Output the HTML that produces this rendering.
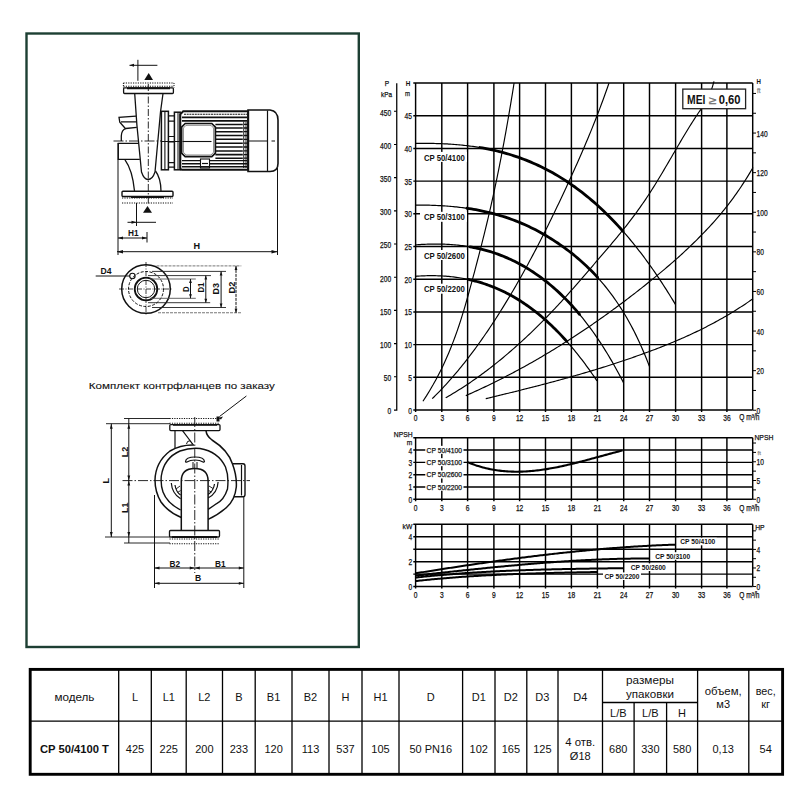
<!DOCTYPE html>
<html><head><meta charset="utf-8"><title>CP 50/4100 T</title>
<style>
html,body{margin:0;padding:0;background:#fff;width:800px;height:800px;overflow:hidden}
svg{display:block}
text{font-family:"Liberation Sans",sans-serif}
</style></head><body>
<svg width="800" height="800" viewBox="0 0 800 800">
<rect width="800" height="800" fill="#fff"/>
<rect x="26.5" y="33.5" width="332.3" height="613.5" fill="#fff" stroke="#1d3f33" stroke-width="2.4"/>
<g fill="none" stroke="#111" stroke-width="1.1">
<!-- ===== Drawing 1: front view ===== -->
<!-- top dimension -->
<path d="M129.5 65.3 H157.4 M137.9 59.8 V80.8" stroke-width="1"/>
<path d="M129.5 65.3 L134 63.8 L134 66.8 Z" fill="#111" stroke="none"/>
<path d="M148.7 73 L153 80 L144.3 80 Z" fill="#111" stroke="none"/>
<!-- counter flange top (dotted) -->
<path d="M123.4 83 H174 M123.4 86.2 H174" stroke-dasharray="1.2 1.2" stroke-width="1.1"/>
<path d="M123.4 83 V87.5 M174 83 V87.5" stroke-dasharray="1 1" stroke-width="1"/>
<!-- top flange -->
<rect x="123.6" y="87.8" width="49.8" height="5.7" rx="1" stroke-width="1.3"/>
<path d="M127 88.2 H170" stroke-width="2"/>
<!-- cone -->
<path d="M134.7 93.5 L136.9 125 L141.5 172 Q144 179.5 148 179.5 Q152.5 179.5 155 172 L160.5 112 L163 93.5" stroke-width="1.3"/>
<!-- center line vertical -->
<path d="M148.3 84 V205" stroke-width="0.9" stroke-dasharray="7 2 1.5 2"/>
<!-- left upper cap -->
<path d="M136 116.2 L119 117.4 L119.8 122.3 L125.8 129 M121 121.9 H136.3" stroke-width="1.3"/>
<path d="M121.3 141 V136 Q121.5 130 125.8 128.5 L136.8 127.4" stroke-width="1.3"/>
<!-- center line horizontal -->
<path d="M113.5 141 H162" stroke-width="0.9" stroke-dasharray="10 2 1.5 2"/>
<path d="M162 141.5 H180" stroke-width="1"/>
<!-- left box -->
<path d="M138.6 143.3 H118.3 V159.4 H139.8" stroke-width="1.3"/>
<!-- lower body -->
<path d="M125 159.8 Q132.5 170 134.5 191" stroke-width="1.3"/>
<path d="M155.5 171 Q160.8 178 161 191" stroke-width="1.3"/>
<!-- bottom flange -->
<rect x="122" y="191.2" width="51" height="5.3" rx="1" stroke-width="1.4"/>
<path d="M131 197 H164" stroke-width="1.8"/>
<path d="M122 198 H173 M122 203 H173" stroke-dasharray="1.2 1.2" stroke-width="1.1"/>
<path d="M147.5 206 L152 212.8 L143 212.8 Z" fill="#111" stroke="none"/>
<!-- H1 dims -->
<path d="M136.5 203 V226 M127.5 222.3 H156 M118 238 H147 M147 232 V242.5" stroke-width="1"/>
<path d="M136.5 222.3 L131.5 220.8 L131.5 223.8 Z M118 238 L123 236.5 L123 239.5 Z M147 238 L142 236.5 L142 239.5 Z" fill="#111" stroke="none"/>
<!-- H dim -->
<path d="M118 143 V255 M277.5 168 V255 M117 251.7 H277.5" stroke-width="1"/>
<path d="M117 251.7 L123 250 L123 253.4 Z M277.5 251.7 L271.5 250 L271.5 253.4 Z" fill="#111" stroke="none"/>
<!-- lantern -->
<rect x="161.4" y="111.3" width="7" height="58.5" stroke-width="1.5"/>
<path d="M164.9 111.5 V169.5" stroke-width="1.1"/>
<path d="M168.5 115.8 H174.4 M168.5 121.2 H174.4 M168.5 136.5 H174.4 M168.5 141.9 H174.4 M168.5 162.6 H174.4 M168.5 167.1 H174.4" stroke-width="1.2"/>
<rect x="174.4" y="112.2" width="5.8" height="57.6" stroke-width="1.5"/>
<path d="M178 112.5 V169.5" stroke-width="1"/>
<!-- motor body -->
<path d="M183.2 111.3 H248.2 V169.8 H182 Q180.3 169.8 180.3 167.5 V114.3 Z" stroke-width="2"/>
<path d="M184 114.2 H247" stroke-width="1.1" stroke-dasharray="2 0.7"/>
<path d="M182 117.4 H247 M182 120.9 H247" stroke-width="1.6"/>
<path d="M215.4 124.4 H242.8 M215.4 128 H242.8 M215.4 131.7 H242.8 M215.4 135.5 H242.8 M215.4 139.3 H242.8 M215.4 143.2 H242.8 M215.4 147 H242.8 M215.4 150.9 H242.8 M215.4 154.6 H242.8 M215.4 158.2 H242.8" stroke-width="1.55"/>
<path d="M182 160.6 H200.5 M209.5 160.6 H247 M182 163.8 H200.5 M209.5 163.8 H247 M182 166.8 H247" stroke-width="1.4"/>
<path d="M243.7 121.5 V168 M246 122 V168" stroke-width="0.9"/>
<path d="M244 124.4 H248 M244 128 H248 M244 131.7 H248 M244 135.5 H248 M244 139.3 H248 M244 143.2 H248 M244 147 H248 M244 150.9 H248 M244 154.6 H248 M244 158.2 H248" stroke-width="1.3"/>
<!-- terminal box -->
<path d="M185.2 123.5 H211.8 L215.4 127.1 V153.1 L211.8 156.7 H185.2 L181.6 153.1 V127.1 Z" stroke-width="1.7"/>
<path d="M186 125.3 H211 L213.6 128 V152.2 L211 155 H186 L183.4 152.2 V128 Z" stroke-width="0.7" stroke="#555"/>
<path d="M182.5 141.5 H211.5" stroke-width="1.1"/>
<rect x="200.5" y="159" width="9" height="9" stroke-width="1.1"/>
<path d="M202 163.5 H208" stroke-width="1.2"/>
<!-- fan cover -->
<path d="M248 110 H270 Q278 111 278 120 V163.5 Q278 171.5 270 171.5 H248 Z" stroke-width="1.6"/>
<path d="M267.5 110.5 V171" stroke-width="1.2"/>
<path d="M249 141 H267.5 M271.5 141 H275" stroke-width="1.2"/>

<!-- ===== Drawing 2: flange view ===== -->
<circle cx="146" cy="289" r="24.3" stroke-width="1.5"/>
<circle cx="146" cy="289" r="17.5" stroke-width="1" stroke-dasharray="3 1.5"/>
<circle cx="146" cy="289" r="11.3" stroke-width="1.8"/>
<circle cx="146" cy="289" r="8.7" stroke-width="1"/>
<circle cx="132.4" cy="276" r="2.7" stroke-width="1.1"/>
<path d="M95.7 276 H130" stroke-width="1"/>
<path d="M119 289 H173 M146 262 V316" stroke-width="0.8" stroke-dasharray="5 1.5 1 1.5"/>
<path d="M156.5 265.9 H241.3 M158 312.75 H241.3" stroke-width="0.9" stroke-dasharray="3 1" stroke="#666"/>
<path d="M152 271.4 H226 M152 307.5 H226" stroke-width="0.9" stroke="#222"/>
<path d="M148 275.6 H211 M148 302.7 H210.2" stroke-width="0.9" stroke="#222"/>
<path d="M150 279 H195.8 M150 298.3 H195.8" stroke-width="0.9" stroke="#555"/>
<path d="M190.5 279 V298.3 M205.8 275.6 V302.7 M221.1 271.4 V307.5" stroke-width="1"/>
<path d="M236 265.9 V312.75" stroke-width="1" stroke-dasharray="3 1"/>
<g fill="#111" stroke="none">
<path d="M190.5 279 l-1.4 4 h2.8 Z M190.5 298.3 l-1.4 -4 h2.8 Z"/>
<path d="M205.8 275.6 l-1.4 4 h2.8 Z M205.8 302.7 l-1.4 -4 h2.8 Z"/>
<path d="M221.1 271.4 l-1.4 4 h2.8 Z M221.1 307.5 l-1.4 -4 h2.8 Z"/>
<path d="M236 265.9 l-1.4 4 h2.8 Z M236 312.75 l-1.4 -4 h2.8 Z"/>
</g>

<!-- ===== Drawing 3: side view ===== -->
<path d="M246.4 396 L219.5 416.5" stroke-width="1"/>
<path d="M218 418 l5 -1.5 l-2 3 Z" fill="#111" stroke="none"/>
<rect x="216.5" y="416.5" width="3" height="5" fill="#111" stroke="none"/>
<path d="M169.5 418.5 H219 M169.5 423.2 H219" stroke-dasharray="1.2 1.2" stroke-width="1.1"/>
<rect x="169.8" y="424.6" width="50.2" height="6" rx="1" stroke-width="1.3"/>
<path d="M173 424.8 H217" stroke-width="1.8"/>
<!-- neck -->
<path d="M175 430.6 V448 M182.5 430.6 L193 444.5" stroke-width="1.2"/>
<path d="M186.5 444 Q187 440.5 190 440.8 L192.5 444" stroke-width="1"/>
<!-- volute -->
<path d="M206 430.6 Q206.5 436 212 440 Q228 450 232.5 464 Q237 476 236.3 487 Q235 500 226.5 507.5 Q218 515 208.1 519.4" stroke-width="1.5"/>
<path d="M181.3 517.5 Q168 512 161 502 Q155 492 155 480 Q155.5 462 170 451 Q181 444.5 194 445" stroke-width="1.5"/>
<path d="M180.6 510 Q167 503 163 492 Q160.5 485 161.3 476 Q164 458 180 451 Q190 447.5 200 448.5 Q218 451.5 225.5 467 Q229 476 227.5 489 Q224 500 216.3 503.8 Q212 507 208.1 509.4" stroke-width="1.4"/>
<!-- boss -->
<path d="M232.5 463.7 H243 Q245 463.7 245 466 V494.5 Q245 496.8 243 496.8 H234" stroke-width="1.4"/>
<path d="M241.5 465 V495.5" stroke-width="1.2"/>
<!-- inner pipe -->
<path d="M181.3 531 V481 Q181.3 468.5 194.7 468.5 Q208.1 468.5 208.1 481 V531" stroke-width="1.5"/>
<!-- T handle -->
<path d="M185.5 461.5 Q186 457 195 457 Q204 457 204.5 461.5 Q204 462.5 203 462 Q200 460 195 460 Q190 460 187 462 Q185.8 462.5 185.5 461.5 Z" stroke-width="1.2"/>
<path d="M193 462 V468.5 M197 462 V468.5" stroke-width="1"/>
<!-- blades -->
<path d="M171.3 483 Q172 493.5 180.6 498.8 M175 485 Q176 492 180.6 495" stroke-width="1.2"/>
<path d="M176 489 L180 486 M177.5 492.5 L180.6 490.5" stroke-width="0.9"/>
<path d="M218.1 482 Q217.5 493 208.1 498 M214.5 484 Q213.5 491 208.1 494.5" stroke-width="1.2"/>
<path d="M213 488.5 L209 486 M211.5 492 L208.5 490.5" stroke-width="0.9"/>
<!-- bottom flange -->
<rect x="169.5" y="530.5" width="50" height="6.5" rx="1" stroke-width="1.3"/>
<path d="M172 537 H217" stroke-width="1.8"/>
<path d="M169.5 539 H219.5 M169.5 543.7 H219.5" stroke-dasharray="1.2 1.2" stroke-width="1.1"/>
<!-- center lines -->
<path d="M122.5 480.6 H250" stroke-width="0.9" stroke-dasharray="10 2 1.5 2"/>
<path d="M194.75 417 V573" stroke-width="0.9" stroke-dasharray="10 2 1.5 2"/>
<!-- dims L, L1, L2 -->
<path d="M106 423.7 H170 M124 418.5 H170 M105 537 H170 M124 543 H170" stroke-width="0.9"/>
<path d="M111.3 423.7 V537 M128.8 418.5 V543" stroke-width="1"/>
<g fill="#111" stroke="none">
<path d="M111.3 423.7 l-1.4 5 h2.8 Z M111.3 537 l-1.4 -5 h2.8 Z"/>
<path d="M128.8 423.7 l-1.4 5 h2.8 Z M128.8 480.6 l-1.4 -5 h2.8 Z M128.8 480.6 l-1.4 5 h2.8 Z M128.8 537 l-1.4 -5 h2.8 Z"/>
</g>
<!-- B dims -->
<path d="M154.5 495 V588 M243.8 497 V588" stroke-width="1"/>
<path d="M154.5 568 H243.8 M154.5 583.3 H243.8" stroke-width="1"/>
<g fill="#111" stroke="none">
<path d="M154.5 568 l5 -1.4 v2.8 Z M194.75 568 l-5 -1.4 v2.8 Z M194.75 568 l5 -1.4 v2.8 Z M243.8 568 l-5 -1.4 v2.8 Z"/>
<path d="M154.5 583.3 l5 -1.4 v2.8 Z M243.8 583.3 l-5 -1.4 v2.8 Z"/>
</g>
</g>
<g font-family="Liberation Sans, sans-serif" fill="#111" font-weight="bold">
<text x="128" y="235.6" font-size="9" textLength="10.6" lengthAdjust="spacingAndGlyphs">H1</text>
<text x="193.6" y="249.2" font-size="9.4" textLength="6.6" lengthAdjust="spacingAndGlyphs">H</text>
<text x="100.6" y="273.8" font-size="9" textLength="11" lengthAdjust="spacingAndGlyphs">D4</text>
<text transform="translate(188.5 292) rotate(-90)" font-size="9.2" textLength="5.6" lengthAdjust="spacingAndGlyphs">D</text>
<text transform="translate(203.8 292.6) rotate(-90)" font-size="9.4" textLength="10" lengthAdjust="spacingAndGlyphs">D1</text>
<text transform="translate(219.2 294.4) rotate(-90)" font-size="9.4" textLength="11.4" lengthAdjust="spacingAndGlyphs">D3</text>
<text transform="translate(235.2 293.5) rotate(-90)" font-size="9.6" textLength="11.8" lengthAdjust="spacingAndGlyphs">D2</text>
<text transform="translate(108.9 483.4) rotate(-90)" font-size="9">L</text>
<text transform="translate(127.6 457.2) rotate(-90)" font-size="9" textLength="10.6" lengthAdjust="spacingAndGlyphs">L2</text>
<text transform="translate(127.6 513) rotate(-90)" font-size="9" textLength="10.6" lengthAdjust="spacingAndGlyphs">L1</text>
<text x="169.5" y="567" font-size="9" textLength="10.6" lengthAdjust="spacingAndGlyphs">B2</text>
<text x="215" y="567" font-size="9" textLength="10.6" lengthAdjust="spacingAndGlyphs">B1</text>
<text x="195" y="581.4" font-size="9" textLength="6.2" lengthAdjust="spacingAndGlyphs">B</text>
</g>
<text x="88.8" y="388.9" font-family="Liberation Sans, sans-serif" font-size="9.7" fill="#111" stroke="#111" stroke-width="0.1" textLength="186" lengthAdjust="spacingAndGlyphs">Комплект контрфланцев по заказу</text>

<g font-family="Liberation Sans, sans-serif">
<path d="M415.6 83 V412 M441.8 83 V412 M467.6 83 V412 M493.9 83 V412 M519.6 83 V412 M545.5 83 V412 M571.4 83 V412 M597.4 83 V412 M623.7 83 V412 M649.5 83 V412 M675.6 83 V412 M701.6 83 V412 M726.9 83 V412 M752.7 83 V410 M413.3 410 H752.7 M413.3 377.3 H752.7 M413.3 344.6 H752.7 M413.3 311.9 H752.7 M413.3 279.2 H752.7 M413.3 246.5 H752.7 M413.3 213.8 H752.7 M413.3 181.1 H752.7 M413.3 148.4 H752.7 M413.3 115.7 H752.7 M413.3 83 H752.7" stroke="#000" stroke-width="1.45" fill="none"/>
<path d="M396.75 83.2 V410 H394" stroke="#000" stroke-width="1.25" fill="none"/>
<path d="M394 376.81 H396.75 M394 343.61 H396.75 M394 310.41 H396.75 M394 277.22 H396.75 M394 244.02 H396.75 M394 210.83 H396.75 M394 177.63 H396.75 M394 144.44 H396.75 M394 111.25 H396.75" stroke="#000" stroke-width="1.1" fill="none"/>
<path d="M752.8 410.25 H756 M752.8 390.45 H756 M752.8 370.65 H756 M752.8 350.85 H756 M752.8 331.05 H756 M752.8 311.25 H756 M752.8 291.45 H756 M752.8 271.65 H756 M752.8 251.85 H756 M752.8 232.05 H756 M752.8 212.25 H756 M752.8 192.45 H756 M752.8 172.65 H756 M752.8 152.85 H756 M752.8 133.05 H756 M752.8 113.25 H756 M752.8 93.45 H756" stroke="#000" stroke-width="1.0" fill="none"/>
<path d="M514.09 83 L513.22 88.39 L512.35 93.79 L511.46 99.18 L510.57 104.58 L509.66 109.97 L508.74 115.36 L507.81 120.76 L506.86 126.15 L505.9 131.55 L504.93 136.94 L503.94 142.33 L502.93 147.73 L501.91 153.12 L500.87 158.52 L499.82 163.91 L498.74 169.31 L497.65 174.7 L496.54 180.09 L495.4 185.49 L494.25 190.88 L493.08 196.28 L491.88 201.67 L490.66 207.06 L489.42 212.46 L488.16 217.85 L486.87 223.25 L485.56 228.64 L484.23 234.03 L482.89 239.43 L481.53 244.82 L480.15 250.22 L478.76 255.61 L477.35 261 L475.93 266.4 L474.51 271.79 L473.07 277.19 L471.62 282.58 L470.16 287.97 L468.68 293.37 L467.17 298.76 L465.63 304.16 L464.04 309.55 L462.39 314.94 L460.69 320.34 L458.93 325.73 L457.09 331.13 L455.16 336.52 L453.15 341.92 L451.04 347.31 L448.83 352.7 L446.5 358.1 L444.06 363.49 L441.48 368.89 L438.77 374.28 L435.92 379.67 L432.92 385.07 L429.76 390.46 L426.44 395.86 L422.94 401.25 M432.2 398.71 L433.72 397.22 L435.25 395.71 L436.77 394.18 L438.3 392.63 L439.82 391.06 L441.34 389.47 L442.87 387.85 L444.39 386.22 L445.92 384.56 L447.44 382.88 L448.97 381.18 L450.49 379.46 L452.01 377.72 L453.54 375.96 L455.06 374.18 L456.59 372.37 L458.11 370.54 L459.63 368.7 L461.16 366.83 L462.68 364.94 L464.21 363.03 L465.73 361.09 L467.26 359.14 L468.78 357.16 L470.3 355.17 L471.83 353.15 L473.35 351.11 L474.88 349.05 L476.4 346.97 L477.92 344.87 L479.45 342.75 L480.97 340.6 L482.5 338.44 L484.02 336.25 L485.54 334.04 L487.07 331.81 L488.59 329.56 L490.12 327.29 L491.64 325 L493.17 322.69 L494.69 320.35 L496.21 318 L497.74 315.62 L499.26 313.22 L500.79 310.81 L502.31 308.37 L503.83 305.9 L505.36 303.42 L506.88 300.92 L508.41 298.4 L509.93 295.85 L511.46 293.28 L512.98 290.7 L514.5 288.09 L516.03 285.46 L517.55 282.81 L519.08 280.14 L520.6 277.44 L522.12 274.73 L523.65 271.99 L525.17 269.24 L526.7 266.46 L528.22 263.66 L529.74 260.84 L531.27 258 L532.79 255.14 L534.32 252.26 L535.84 249.36 L537.37 246.44 L538.89 243.49 L540.41 240.53 L541.94 237.55 L543.46 234.54 L544.99 231.52 L546.51 228.47 L548.03 225.41 L549.56 222.33 L551.08 219.22 L552.61 216.1 L554.13 212.96 L555.66 209.8 L557.18 206.62 L558.7 203.42 L560.23 200.21 L561.75 196.97 L563.28 193.72 L564.8 190.45 L566.32 187.16 L567.85 183.85 L569.37 180.52 L570.9 177.18 L572.42 173.83 L573.94 170.45 L575.47 167.06 L576.99 163.65 L578.52 160.21 L580.04 156.75 L581.57 153.26 L583.09 149.74 L584.61 146.19 L586.14 142.6 L587.66 138.97 L589.19 135.31 L590.71 131.6 L592.23 127.85 L593.76 124.06 L595.28 120.21 L596.81 116.32 L598.33 112.37 L599.86 108.36 L601.38 104.3 L602.9 100.18 L604.43 96 L605.95 91.75 L607.48 87.44 L609 83.05 M445.7 397.77 L447.22 396.91 L448.73 396.03 L450.25 395.15 L451.76 394.25 L453.28 393.34 L454.79 392.42 L456.31 391.49 L457.83 390.55 L459.34 389.6 L460.86 388.64 L462.37 387.67 L463.89 386.68 L465.41 385.69 L466.92 384.69 L468.44 383.67 L469.95 382.65 L471.47 381.61 L472.98 380.57 L474.5 379.51 L476.02 378.44 L477.53 377.36 L479.05 376.28 L480.56 375.18 L482.08 374.07 L483.6 372.95 L485.11 371.82 L486.63 370.68 L488.14 369.53 L489.66 368.36 L491.17 367.19 L492.69 366.01 L494.21 364.82 L495.72 363.61 L497.24 362.4 L498.75 361.17 L500.27 359.94 L501.79 358.69 L503.3 357.44 L504.82 356.17 L506.33 354.89 L507.85 353.61 L509.36 352.31 L510.88 351 L512.4 349.68 L513.91 348.35 L515.43 347.01 L516.94 345.66 L518.46 344.3 L519.98 342.93 L521.49 341.55 L523.01 340.16 L524.52 338.76 L526.04 337.35 L527.55 335.93 L529.07 334.49 L530.59 333.05 L532.1 331.6 L533.62 330.14 L535.13 328.66 L536.65 327.18 L538.16 325.68 L539.68 324.18 L541.2 322.66 L542.71 321.14 L544.23 319.6 L545.74 318.06 L547.26 316.5 L548.78 314.94 L550.29 313.36 L551.81 311.77 L553.32 310.18 L554.84 308.57 L556.35 306.95 L557.87 305.33 L559.39 303.69 L560.9 302.04 L562.42 300.38 L563.93 298.72 L565.45 297.04 L566.97 295.35 L568.48 293.66 L570 291.95 L571.51 290.24 L573.03 288.52 L574.54 286.8 L576.06 285.07 L577.58 283.33 L579.09 281.59 L580.61 279.84 L582.12 278.09 L583.64 276.34 L585.16 274.58 L586.67 272.82 L588.19 271.06 L589.7 269.3 L591.22 267.53 L592.73 265.77 L594.25 264 L595.77 262.23 L597.28 260.47 L598.8 258.71 L600.31 256.94 L601.83 255.18 L603.35 253.41 L604.86 251.64 L606.38 249.87 L607.89 248.1 L609.41 246.31 L610.92 244.52 L612.44 242.73 L613.96 240.92 L615.47 239.11 L616.99 237.28 L618.5 235.44 L620.02 233.59 L621.54 231.72 L623.05 229.84 L624.57 227.94 L626.08 226.02 L627.6 224.09 L629.11 222.13 L630.63 220.16 L632.15 218.16 L633.66 216.15 L635.18 214.1 L636.69 212.04 L638.21 209.95 L639.72 207.83 L641.24 205.68 L642.76 203.5 L644.27 201.3 L645.79 199.06 L647.3 196.79 L648.82 194.49 L650.34 192.15 L651.85 189.78 L653.37 187.38 L654.88 184.95 L656.4 182.49 L657.91 180 L659.43 177.5 L660.95 174.97 L662.46 172.42 L663.98 169.86 L665.49 167.29 L667.01 164.71 L668.53 162.12 L670.04 159.52 L671.56 156.92 L673.07 154.32 L674.59 151.72 L676.1 149.12 L677.62 146.53 L679.14 143.95 L680.65 141.38 L682.17 138.82 L683.68 136.28 L685.2 133.76 L686.72 131.26 L688.23 128.78 L689.75 126.32 L691.26 123.9 L692.78 121.5 L694.29 119.14 L695.81 116.81 L697.33 114.52 L698.84 112.27 L700.36 110.06 L701.87 107.89 L703.39 105.71 L704.91 103.41 L706.42 100.89 L707.94 98.05 L709.45 94.79 L710.97 90.99 L712.48 86.57 L714 81.41 M465.8 395.65 L467.31 394.98 L468.82 394.31 L470.33 393.64 L471.85 392.96 L473.36 392.27 L474.87 391.58 L476.38 390.89 L477.89 390.19 L479.4 389.49 L480.92 388.79 L482.43 388.08 L483.94 387.36 L485.45 386.64 L486.96 385.92 L488.47 385.19 L489.99 384.46 L491.5 383.72 L493.01 382.98 L494.52 382.23 L496.03 381.48 L497.54 380.73 L499.05 379.97 L500.57 379.21 L502.08 378.44 L503.59 377.67 L505.1 376.89 L506.61 376.11 L508.12 375.32 L509.64 374.53 L511.15 373.74 L512.66 372.94 L514.17 372.13 L515.68 371.33 L517.19 370.51 L518.71 369.7 L520.22 368.87 L521.73 368.05 L523.24 367.22 L524.75 366.38 L526.26 365.54 L527.77 364.7 L529.29 363.85 L530.8 363 L532.31 362.14 L533.82 361.28 L535.33 360.41 L536.84 359.54 L538.36 358.67 L539.87 357.79 L541.38 356.9 L542.89 356.01 L544.4 355.12 L545.91 354.22 L547.43 353.32 L548.94 352.41 L550.45 351.5 L551.96 350.58 L553.47 349.66 L554.98 348.73 L556.49 347.8 L558.01 346.87 L559.52 345.93 L561.03 344.99 L562.54 344.04 L564.05 343.09 L565.56 342.13 L567.08 341.17 L568.59 340.2 L570.1 339.23 L571.61 338.25 L573.12 337.27 L574.63 336.29 L576.15 335.3 L577.66 334.3 L579.17 333.3 L580.68 332.3 L582.19 331.29 L583.7 330.28 L585.21 329.26 L586.73 328.24 L588.24 327.21 L589.75 326.18 L591.26 325.15 L592.77 324.11 L594.28 323.06 L595.8 322.01 L597.31 320.96 L598.82 319.9 L600.33 318.83 L601.84 317.76 L603.35 316.69 L604.87 315.61 L606.38 314.53 L607.89 313.44 L609.4 312.35 L610.91 311.26 L612.42 310.16 L613.93 309.05 L615.45 307.94 L616.96 306.82 L618.47 305.7 L619.98 304.58 L621.49 303.45 L623 302.32 L624.52 301.18 L626.03 300.03 L627.54 298.89 L629.05 297.73 L630.56 296.58 L632.07 295.41 L633.59 294.25 L635.1 293.08 L636.61 291.9 L638.12 290.72 L639.63 289.53 L641.14 288.34 L642.65 287.15 L644.17 285.95 L645.68 284.74 L647.19 283.53 L648.7 282.32 L650.21 281.1 L651.72 279.87 L653.24 278.65 L654.75 277.41 L656.26 276.17 L657.77 274.92 L659.28 273.67 L660.79 272.41 L662.31 271.15 L663.82 269.88 L665.33 268.6 L666.84 267.31 L668.35 266.01 L669.86 264.71 L671.37 263.4 L672.89 262.08 L674.4 260.75 L675.91 259.41 L677.42 258.06 L678.93 256.7 L680.44 255.34 L681.96 253.96 L683.47 252.57 L684.98 251.17 L686.49 249.76 L688 248.33 L689.51 246.9 L691.03 245.45 L692.54 243.99 L694.05 242.52 L695.56 241.04 L697.07 239.54 L698.58 238.03 L700.09 236.51 L701.61 234.97 L703.12 233.41 L704.63 231.84 L706.14 230.26 L707.65 228.66 L709.16 227.04 L710.68 225.4 L712.19 223.74 L713.7 222.06 L715.21 220.35 L716.72 218.63 L718.23 216.88 L719.75 215.1 L721.26 213.29 L722.77 211.46 L724.28 209.6 L725.79 207.71 L727.3 205.8 L728.81 203.84 L730.33 201.86 L731.84 199.84 L733.35 197.79 L734.86 195.7 L736.37 193.58 L737.88 191.41 L739.4 189.21 L740.91 186.97 L742.42 184.69 L743.93 182.37 L745.44 180 L746.95 177.59 L748.47 175.13 L749.98 172.63 L751.49 170.08 L753 167.49 M485.75 398.68 L487.26 398.32 L488.77 397.96 L490.28 397.59 L491.79 397.23 L493.3 396.86 L494.81 396.5 L496.32 396.13 L497.83 395.77 L499.34 395.4 L500.85 395.03 L502.36 394.66 L503.87 394.3 L505.38 393.93 L506.89 393.56 L508.4 393.19 L509.91 392.81 L511.42 392.44 L512.93 392.07 L514.44 391.7 L515.95 391.32 L517.46 390.95 L518.97 390.57 L520.48 390.19 L521.99 389.81 L523.5 389.43 L525.01 389.05 L526.52 388.67 L528.03 388.29 L529.54 387.91 L531.05 387.52 L532.56 387.14 L534.07 386.75 L535.58 386.36 L537.09 385.97 L538.6 385.58 L540.11 385.19 L541.62 384.79 L543.13 384.4 L544.64 384 L546.15 383.6 L547.66 383.2 L549.17 382.8 L550.68 382.4 L552.19 382 L553.69 381.59 L555.2 381.19 L556.71 380.78 L558.22 380.37 L559.73 379.96 L561.24 379.54 L562.75 379.13 L564.26 378.71 L565.77 378.29 L567.28 377.87 L568.79 377.45 L570.3 377.02 L571.81 376.6 L573.32 376.17 L574.83 375.74 L576.34 375.31 L577.85 374.87 L579.36 374.44 L580.87 374 L582.38 373.56 L583.89 373.12 L585.4 372.67 L586.91 372.23 L588.42 371.78 L589.93 371.33 L591.44 370.87 L592.95 370.42 L594.46 369.96 L595.97 369.5 L597.48 369.04 L598.99 368.57 L600.5 368.1 L602.01 367.63 L603.52 367.16 L605.03 366.69 L606.54 366.21 L608.05 365.73 L609.56 365.25 L611.07 364.76 L612.58 364.27 L614.09 363.78 L615.6 363.29 L617.11 362.79 L618.62 362.29 L620.13 361.79 L621.64 361.29 L623.15 360.78 L624.66 360.27 L626.17 359.76 L627.68 359.24 L629.19 358.72 L630.7 358.2 L632.21 357.68 L633.72 357.15 L635.23 356.62 L636.74 356.08 L638.25 355.55 L639.76 355.01 L641.27 354.46 L642.78 353.91 L644.29 353.36 L645.8 352.81 L647.31 352.26 L648.82 351.7 L650.33 351.13 L651.84 350.57 L653.35 350 L654.86 349.42 L656.37 348.84 L657.88 348.26 L659.39 347.68 L660.9 347.09 L662.41 346.49 L663.92 345.89 L665.43 345.29 L666.94 344.68 L668.45 344.07 L669.96 343.45 L671.47 342.83 L672.98 342.2 L674.49 341.57 L676 340.93 L677.51 340.29 L679.02 339.64 L680.53 338.99 L682.04 338.33 L683.55 337.66 L685.06 336.99 L686.56 336.31 L688.07 335.63 L689.58 334.94 L691.09 334.24 L692.6 333.54 L694.11 332.82 L695.62 332.11 L697.13 331.38 L698.64 330.65 L700.15 329.92 L701.66 329.17 L703.17 328.42 L704.68 327.66 L706.19 326.89 L707.7 326.11 L709.21 325.33 L710.72 324.54 L712.23 323.74 L713.74 322.93 L715.25 322.12 L716.76 321.29 L718.27 320.46 L719.78 319.62 L721.29 318.77 L722.8 317.91 L724.31 317.04 L725.82 316.17 L727.33 315.28 L728.84 314.39 L730.35 313.48 L731.86 312.57 L733.37 311.65 L734.88 310.71 L736.39 309.77 L737.9 308.82 L739.41 307.85 L740.92 306.88 L742.43 305.9 L743.94 304.9 L745.45 303.9 L746.96 302.88 L748.47 301.86 L749.98 300.82 L751.49 299.77 L753 298.71" stroke="#000" stroke-width="1.15" fill="none"/>
<path d="M415.5 143.4 L417.01 143.38 L418.52 143.37 L420.03 143.36 L421.54 143.35 L423.06 143.35 L424.57 143.35 L426.08 143.35 L427.59 143.36 L429.1 143.38 L430.61 143.4 L432.12 143.42 L433.63 143.45 L435.14 143.49 L436.65 143.53 L438.17 143.57 L439.68 143.63 L441.19 143.68 L442.7 143.75 L444.21 143.82 L445.72 143.89 L447.23 143.97 L448.74 144.06 L450.25 144.15 L451.77 144.25 L453.28 144.36 L454.79 144.48 L456.3 144.6 L457.81 144.73 L459.32 144.86 L460.83 145.01 L462.34 145.16 L463.85 145.32 L465.36 145.48 L466.88 145.66 L468.39 145.84 L469.9 146.03 L471.41 146.23 L472.92 146.44 L474.43 146.65 L475.94 146.88 L477.45 147.11 L478.96 147.36 L480.48 147.61 L481.99 147.87 L483.5 148.14 L485.01 148.42 L486.52 148.71 L488.03 149.01 L489.54 149.32 L491.05 149.64 L492.56 149.97 L494.07 150.31 L495.59 150.66 L497.1 151.02 L498.61 151.39 L500.12 151.77 L501.63 152.17 L503.14 152.57 L504.65 152.99 L506.16 153.42 L507.67 153.85 L509.18 154.3 L510.7 154.77 L512.21 155.24 L513.72 155.73 L515.23 156.22 L516.74 156.73 L518.25 157.26 L519.76 157.79 L521.27 158.34 L522.78 158.9 L524.3 159.47 L525.81 160.06 L527.32 160.66 L528.83 161.27 L530.34 161.9 L531.85 162.54 L533.36 163.19 L534.87 163.86 L536.38 164.54 L537.89 165.24 L539.41 165.95 L540.92 166.67 L542.43 167.41 L543.94 168.16 L545.45 168.93 L546.96 169.72 L548.47 170.51 L549.98 171.33 L551.49 172.15 L553.01 173 L554.52 173.86 L556.03 174.73 L557.54 175.62 L559.05 176.53 L560.56 177.45 L562.07 178.39 L563.58 179.35 L565.09 180.32 L566.6 181.31 L568.12 182.31 L569.63 183.33 L571.14 184.37 L572.65 185.43 L574.16 186.5 L575.67 187.59 L577.18 188.7 L578.69 189.82 L580.2 190.97 L581.72 192.13 L583.23 193.31 L584.74 194.5 L586.25 195.72 L587.76 196.95 L589.27 198.2 L590.78 199.47 L592.29 200.76 L593.8 202.07 L595.31 203.4 L596.83 204.75 L598.34 206.11 L599.85 207.5 L601.36 208.9 L602.87 210.33 L604.38 211.77 L605.89 213.24 L607.4 214.72 L608.91 216.23 L610.42 217.75 L611.94 219.3 L613.45 220.86 L614.96 222.45 L616.47 224.06 L617.98 225.69 L619.49 227.34 L621 229.01 L622.51 230.7 L624.02 232.42 L625.54 234.15 L627.05 235.91 L628.56 237.69 L630.07 239.49 L631.58 241.32 L633.09 243.16 L634.6 245.03 L636.11 246.92 L637.62 248.84 L639.13 250.77 L640.65 252.73 L642.16 254.72 L643.67 256.72 L645.18 258.75 L646.69 260.8 L648.2 262.88 L649.71 264.98 L651.22 267.1 L652.73 269.25 L654.25 271.42 L655.76 273.62 L657.27 275.84 L658.78 278.09 L660.29 280.36 L661.8 282.65 L663.31 284.97 L664.82 287.32 L666.33 289.69 L667.84 292.08 L669.36 294.5 L670.87 296.95 L672.38 299.42 L673.89 301.92 L675.4 304.44 M415.5 205.08 L417.02 205.08 L418.54 205.08 L420.06 205.08 L421.58 205.1 L423.09 205.11 L424.61 205.13 L426.13 205.16 L427.65 205.19 L429.17 205.22 L430.69 205.26 L432.21 205.31 L433.73 205.36 L435.24 205.42 L436.76 205.49 L438.28 205.56 L439.8 205.64 L441.32 205.72 L442.84 205.81 L444.36 205.91 L445.88 206.01 L447.4 206.12 L448.91 206.24 L450.43 206.37 L451.95 206.5 L453.47 206.65 L454.99 206.8 L456.51 206.95 L458.03 207.12 L459.55 207.29 L461.06 207.48 L462.58 207.67 L464.1 207.87 L465.62 208.08 L467.14 208.3 L468.66 208.52 L470.18 208.76 L471.7 209.01 L473.22 209.26 L474.73 209.53 L476.25 209.8 L477.77 210.09 L479.29 210.38 L480.81 210.69 L482.33 211.01 L483.85 211.33 L485.37 211.67 L486.89 212.02 L488.4 212.38 L489.92 212.75 L491.44 213.13 L492.96 213.53 L494.48 213.93 L496 214.35 L497.52 214.78 L499.04 215.22 L500.55 215.67 L502.07 216.14 L503.59 216.62 L505.11 217.11 L506.63 217.61 L508.15 218.13 L509.67 218.66 L511.19 219.2 L512.71 219.76 L514.22 220.33 L515.74 220.92 L517.26 221.51 L518.78 222.13 L520.3 222.75 L521.82 223.39 L523.34 224.05 L524.86 224.72 L526.37 225.4 L527.89 226.1 L529.41 226.81 L530.93 227.54 L532.45 228.29 L533.97 229.05 L535.49 229.82 L537.01 230.61 L538.53 231.42 L540.04 232.24 L541.56 233.08 L543.08 233.94 L544.6 234.81 L546.12 235.7 L547.64 236.6 L549.16 237.53 L550.68 238.47 L552.19 239.42 L553.71 240.4 L555.23 241.39 L556.75 242.4 L558.27 243.42 L559.79 244.47 L561.31 245.53 L562.83 246.61 L564.35 247.71 L565.86 248.83 L567.38 249.96 L568.9 251.12 L570.42 252.29 L571.94 253.49 L573.46 254.7 L574.98 255.93 L576.5 257.19 L578.01 258.47 L579.53 259.77 L581.05 261.09 L582.57 262.45 L584.09 263.82 L585.61 265.23 L587.13 266.66 L588.65 268.13 L590.17 269.63 L591.68 271.15 L593.2 272.71 L594.72 274.31 L596.24 275.94 L597.76 277.6 L599.28 279.3 L600.8 281.04 L602.32 282.82 L603.84 284.64 L605.35 286.5 L606.87 288.41 L608.39 290.35 L609.91 292.34 L611.43 294.38 L612.95 296.46 L614.47 298.59 L615.99 300.76 L617.5 302.99 L619.02 305.27 L620.54 307.6 L622.06 310 L623.58 312.45 L625.1 314.97 L626.62 317.56 L628.14 320.21 L629.66 322.94 L631.17 325.74 L632.69 328.63 L634.21 331.59 L635.73 334.63 L637.25 337.77 L638.77 340.99 L640.29 344.31 L641.81 347.72 L643.32 351.23 L644.84 354.83 L646.36 358.55 L647.88 362.37 L649.4 366.3 M415.5 244.84 L417.02 244.73 L418.54 244.63 L420.05 244.53 L421.57 244.45 L423.09 244.37 L424.61 244.3 L426.13 244.23 L427.65 244.18 L429.16 244.14 L430.68 244.1 L432.2 244.07 L433.72 244.05 L435.24 244.04 L436.76 244.04 L438.27 244.05 L439.79 244.07 L441.31 244.1 L442.83 244.14 L444.35 244.2 L445.86 244.26 L447.38 244.33 L448.9 244.41 L450.42 244.51 L451.94 244.61 L453.46 244.73 L454.97 244.86 L456.49 245 L458.01 245.16 L459.53 245.32 L461.05 245.5 L462.57 245.69 L464.08 245.9 L465.6 246.12 L467.12 246.35 L468.64 246.59 L470.16 246.85 L471.68 247.12 L473.19 247.41 L474.71 247.71 L476.23 248.02 L477.75 248.35 L479.27 248.7 L480.78 249.06 L482.3 249.43 L483.82 249.82 L485.34 250.23 L486.86 250.65 L488.38 251.09 L489.89 251.54 L491.41 252.01 L492.93 252.5 L494.45 253 L495.97 253.52 L497.49 254.06 L499 254.61 L500.52 255.18 L502.04 255.77 L503.56 256.38 L505.08 257.01 L506.59 257.65 L508.11 258.31 L509.63 259 L511.15 259.7 L512.67 260.42 L514.19 261.15 L515.7 261.91 L517.22 262.69 L518.74 263.49 L520.26 264.3 L521.78 265.14 L523.3 266 L524.81 266.88 L526.33 267.78 L527.85 268.7 L529.37 269.64 L530.89 270.6 L532.41 271.58 L533.92 272.59 L535.44 273.62 L536.96 274.67 L538.48 275.74 L540 276.83 L541.51 277.95 L543.03 279.09 L544.55 280.25 L546.07 281.44 L547.59 282.65 L549.11 283.88 L550.62 285.14 L552.14 286.42 L553.66 287.73 L555.18 289.06 L556.7 290.42 L558.22 291.81 L559.73 293.22 L561.25 294.66 L562.77 296.13 L564.29 297.63 L565.81 299.16 L567.32 300.71 L568.84 302.29 L570.36 303.91 L571.88 305.55 L573.4 307.23 L574.92 308.94 L576.43 310.67 L577.95 312.45 L579.47 314.25 L580.99 316.08 L582.51 317.95 L584.03 319.86 L585.54 321.8 L587.06 323.77 L588.58 325.78 L590.1 327.82 L591.62 329.9 L593.14 332.02 L594.65 334.17 L596.17 336.36 L597.69 338.59 L599.21 340.86 L600.73 343.16 L602.24 345.51 L603.76 347.89 L605.28 350.32 L606.8 352.78 L608.32 355.29 L609.84 357.83 L611.35 360.42 L612.87 363.05 L614.39 365.72 L615.91 368.44 L617.43 371.2 L618.95 374 L620.46 376.85 L621.98 379.74 L623.5 382.68 M415.5 276.28 L417.01 276.18 L418.52 276.08 L420.04 276 L421.55 275.92 L423.06 275.85 L424.57 275.8 L426.09 275.75 L427.6 275.72 L429.11 275.69 L430.62 275.68 L432.14 275.68 L433.65 275.69 L435.16 275.71 L436.68 275.74 L438.19 275.79 L439.7 275.85 L441.21 275.92 L442.73 276 L444.24 276.09 L445.75 276.2 L447.26 276.32 L448.77 276.45 L450.29 276.6 L451.8 276.76 L453.31 276.93 L454.82 277.12 L456.34 277.32 L457.85 277.53 L459.36 277.76 L460.88 278 L462.39 278.26 L463.9 278.54 L465.41 278.82 L466.93 279.13 L468.44 279.45 L469.95 279.78 L471.46 280.13 L472.98 280.5 L474.49 280.88 L476 281.28 L477.51 281.69 L479.02 282.12 L480.54 282.57 L482.05 283.03 L483.56 283.51 L485.07 284.01 L486.59 284.53 L488.1 285.06 L489.61 285.61 L491.12 286.18 L492.64 286.77 L494.15 287.38 L495.66 288 L497.18 288.64 L498.69 289.31 L500.2 289.99 L501.71 290.69 L503.23 291.4 L504.74 292.14 L506.25 292.9 L507.76 293.68 L509.27 294.48 L510.79 295.3 L512.3 296.14 L513.81 296.99 L515.33 297.87 L516.84 298.77 L518.35 299.7 L519.86 300.64 L521.38 301.6 L522.89 302.59 L524.4 303.6 L525.91 304.63 L527.42 305.68 L528.94 306.75 L530.45 307.85 L531.96 308.97 L533.48 310.11 L534.99 311.28 L536.5 312.46 L538.01 313.68 L539.52 314.91 L541.04 316.17 L542.55 317.45 L544.06 318.76 L545.58 320.09 L547.09 321.44 L548.6 322.82 L550.11 324.23 L551.62 325.65 L553.14 327.11 L554.65 328.59 L556.16 330.09 L557.67 331.62 L559.19 333.18 L560.7 334.76 L562.21 336.37 L563.73 338 L565.24 339.66 L566.75 341.35 L568.26 343.06 L569.77 344.8 L571.29 346.57 L572.8 348.37 L574.31 350.19 L575.83 352.04 L577.34 353.92 L578.85 355.82 L580.36 357.76 L581.88 359.72 L583.39 361.71 L584.9 363.73 L586.41 365.78 L587.92 367.86 L589.44 369.96 L590.95 372.1 L592.46 374.27 L593.98 376.46 L595.49 378.69 L597 380.94" stroke="#000" stroke-width="1.2" fill="none"/>
<path d="M480 147.53 L482.42 147.95 L484.85 148.39 L487.27 148.86 L489.69 149.35 L492.12 149.87 L494.54 150.42 L496.97 150.99 L499.39 151.59 L501.81 152.22 L504.24 152.87 L506.66 153.56 L509.08 154.27 L511.51 155.02 L513.93 155.8 L516.36 156.6 L518.78 157.44 L521.2 158.31 L523.63 159.22 L526.05 160.16 L528.47 161.13 L530.9 162.14 L533.32 163.18 L535.75 164.25 L538.17 165.37 L540.59 166.52 L543.02 167.7 L545.44 168.93 L547.86 170.19 L550.29 171.49 L552.71 172.83 L555.14 174.21 L557.56 175.64 L559.98 177.1 L562.41 178.6 L564.83 180.15 L567.25 181.74 L569.68 183.37 L572.1 185.04 L574.53 186.76 L576.95 188.53 L579.37 190.33 L581.8 192.19 L584.22 194.09 L586.64 196.04 L589.07 198.03 L591.49 200.08 L593.92 202.17 L596.34 204.31 L598.76 206.5 L601.19 208.74 L603.61 211.03 L606.03 213.38 L608.46 215.77 L610.88 218.22 L613.31 220.72 L615.73 223.27 L618.15 225.88 L620.58 228.54 L623 231.25 M467 208.28 L469.21 208.61 L471.42 208.96 L473.64 209.33 L475.85 209.73 L478.06 210.14 L480.27 210.58 L482.48 211.04 L484.69 211.52 L486.91 212.02 L489.12 212.55 L491.33 213.1 L493.54 213.68 L495.75 214.28 L497.97 214.91 L500.18 215.56 L502.39 216.24 L504.6 216.94 L506.81 217.68 L509.03 218.44 L511.24 219.22 L513.45 220.04 L515.66 220.88 L517.87 221.76 L520.08 222.66 L522.3 223.6 L524.51 224.56 L526.72 225.56 L528.93 226.59 L531.14 227.65 L533.36 228.74 L535.57 229.86 L537.78 231.02 L539.99 232.21 L542.2 233.44 L544.42 234.7 L546.63 236 L548.84 237.33 L551.05 238.7 L553.26 240.1 L555.47 241.55 L557.69 243.03 L559.9 244.54 L562.11 246.1 L564.32 247.69 L566.53 249.33 L568.75 251 L570.96 252.71 L573.17 254.47 L575.38 256.27 L577.59 258.11 L579.81 260 L582.02 261.95 L584.23 263.95 L586.44 266.01 L588.65 268.14 L590.86 270.32 L593.08 272.58 L595.29 274.91 L597.5 277.31 M470 246.82 L471.86 247.15 L473.71 247.51 L475.57 247.88 L477.42 248.28 L479.28 248.7 L481.14 249.14 L482.99 249.61 L484.85 250.09 L486.7 250.6 L488.56 251.14 L490.42 251.7 L492.27 252.28 L494.13 252.89 L495.98 253.52 L497.84 254.18 L499.69 254.87 L501.55 255.58 L503.41 256.32 L505.26 257.09 L507.12 257.88 L508.97 258.7 L510.83 259.55 L512.69 260.42 L514.54 261.33 L516.4 262.26 L518.25 263.23 L520.11 264.22 L521.97 265.25 L523.82 266.3 L525.68 267.39 L527.53 268.5 L529.39 269.65 L531.25 270.83 L533.1 272.04 L534.96 273.29 L536.81 274.56 L538.67 275.88 L540.53 277.22 L542.38 278.6 L544.24 280.01 L546.09 281.46 L547.95 282.94 L549.81 284.46 L551.66 286.01 L553.52 287.61 L555.37 289.24 L557.23 290.91 L559.08 292.62 L560.94 294.37 L562.8 296.16 L564.65 297.99 L566.51 299.87 L568.36 301.79 L570.22 303.76 L572.08 305.77 L573.93 307.83 L575.79 309.93 L577.64 312.08 L579.5 314.28 M468.5 279.46 L470.17 279.83 L471.83 280.22 L473.5 280.63 L475.16 281.05 L476.83 281.5 L478.49 281.97 L480.16 282.45 L481.82 282.96 L483.49 283.49 L485.15 284.04 L486.82 284.61 L488.48 285.2 L490.15 285.81 L491.81 286.45 L493.48 287.11 L495.14 287.78 L496.81 288.49 L498.47 289.21 L500.14 289.96 L501.81 290.73 L503.47 291.52 L505.14 292.34 L506.8 293.18 L508.47 294.05 L510.13 294.94 L511.8 295.85 L513.46 296.79 L515.13 297.76 L516.79 298.75 L518.46 299.76 L520.12 300.8 L521.79 301.87 L523.45 302.96 L525.12 304.08 L526.78 305.23 L528.45 306.4 L530.11 307.6 L531.78 308.83 L533.44 310.09 L535.11 311.37 L536.78 312.68 L538.44 314.02 L540.11 315.39 L541.77 316.79 L543.44 318.21 L545.1 319.67 L546.77 321.15 L548.43 322.67 L550.1 324.21 L551.76 325.79 L553.43 327.39 L555.09 329.03 L556.76 330.69 L558.42 332.39 L560.09 334.12 L561.75 335.88 L563.42 337.67 L565.08 339.49 L566.75 341.35" stroke="#000" stroke-width="2.8" fill="none" stroke-linecap="round"/>
<rect x="420" y="151.9" width="47" height="10" fill="#fff"/>
<rect x="420" y="211.8" width="47" height="10" fill="#fff"/>
<rect x="420" y="250" width="47" height="10" fill="#fff"/>
<rect x="420" y="283.7" width="47" height="10" fill="#fff"/>
<rect x="682.8" y="89.1" width="62.8" height="19.6" fill="#fff" stroke="#222" stroke-width="1.3"/>
<text x="423.9" y="160.5" font-size="9.9" font-weight="bold" textLength="40.9" lengthAdjust="spacingAndGlyphs" fill="#111">CP 50/4100</text>
<text x="423.9" y="220.4" font-size="9.9" font-weight="bold" textLength="40.9" lengthAdjust="spacingAndGlyphs" fill="#111">CP 50/3100</text>
<text x="423.9" y="258.6" font-size="9.9" font-weight="bold" textLength="40.9" lengthAdjust="spacingAndGlyphs" fill="#111">CP 50/2600</text>
<text x="423.9" y="292.3" font-size="9.9" font-weight="bold" textLength="40.9" lengthAdjust="spacingAndGlyphs" fill="#111">CP 50/2200</text>
<text x="411.9" y="413.5" font-size="8.6" text-anchor="end" textLength="3.7" lengthAdjust="spacingAndGlyphs" fill="#111" stroke="#111" stroke-width="0.25">0</text>
<text x="411.9" y="380.8" font-size="8.6" text-anchor="end" textLength="3.7" lengthAdjust="spacingAndGlyphs" fill="#111" stroke="#111" stroke-width="0.25">5</text>
<text x="411.9" y="348.1" font-size="8.6" text-anchor="end" textLength="7.4" lengthAdjust="spacingAndGlyphs" fill="#111" stroke="#111" stroke-width="0.25">10</text>
<text x="411.9" y="315.4" font-size="8.6" text-anchor="end" textLength="7.4" lengthAdjust="spacingAndGlyphs" fill="#111" stroke="#111" stroke-width="0.25">15</text>
<text x="411.9" y="282.7" font-size="8.6" text-anchor="end" textLength="7.4" lengthAdjust="spacingAndGlyphs" fill="#111" stroke="#111" stroke-width="0.25">20</text>
<text x="411.9" y="250" font-size="8.6" text-anchor="end" textLength="7.4" lengthAdjust="spacingAndGlyphs" fill="#111" stroke="#111" stroke-width="0.25">25</text>
<text x="411.9" y="217.3" font-size="8.6" text-anchor="end" textLength="7.4" lengthAdjust="spacingAndGlyphs" fill="#111" stroke="#111" stroke-width="0.25">30</text>
<text x="411.9" y="184.6" font-size="8.6" text-anchor="end" textLength="7.4" lengthAdjust="spacingAndGlyphs" fill="#111" stroke="#111" stroke-width="0.25">35</text>
<text x="411.9" y="151.9" font-size="8.6" text-anchor="end" textLength="7.4" lengthAdjust="spacingAndGlyphs" fill="#111" stroke="#111" stroke-width="0.25">40</text>
<text x="411.9" y="119.2" font-size="8.6" text-anchor="end" textLength="7.4" lengthAdjust="spacingAndGlyphs" fill="#111" stroke="#111" stroke-width="0.25">45</text>
<text x="391.2" y="414.3" font-size="8.6" text-anchor="end" textLength="3.7" lengthAdjust="spacingAndGlyphs" fill="#111" stroke="#111" stroke-width="0.25">0</text>
<text x="391.2" y="381.11" font-size="8.6" text-anchor="end" textLength="7.4" lengthAdjust="spacingAndGlyphs" fill="#111" stroke="#111" stroke-width="0.25">50</text>
<text x="391.2" y="347.91" font-size="8.6" text-anchor="end" textLength="11.1" lengthAdjust="spacingAndGlyphs" fill="#111" stroke="#111" stroke-width="0.25">100</text>
<text x="391.2" y="314.71" font-size="8.6" text-anchor="end" textLength="11.1" lengthAdjust="spacingAndGlyphs" fill="#111" stroke="#111" stroke-width="0.25">150</text>
<text x="391.2" y="281.52" font-size="8.6" text-anchor="end" textLength="11.1" lengthAdjust="spacingAndGlyphs" fill="#111" stroke="#111" stroke-width="0.25">200</text>
<text x="391.2" y="248.32" font-size="8.6" text-anchor="end" textLength="11.1" lengthAdjust="spacingAndGlyphs" fill="#111" stroke="#111" stroke-width="0.25">250</text>
<text x="391.2" y="215.13" font-size="8.6" text-anchor="end" textLength="11.1" lengthAdjust="spacingAndGlyphs" fill="#111" stroke="#111" stroke-width="0.25">300</text>
<text x="391.2" y="181.94" font-size="8.6" text-anchor="end" textLength="11.1" lengthAdjust="spacingAndGlyphs" fill="#111" stroke="#111" stroke-width="0.25">350</text>
<text x="391.2" y="148.74" font-size="8.6" text-anchor="end" textLength="11.1" lengthAdjust="spacingAndGlyphs" fill="#111" stroke="#111" stroke-width="0.25">400</text>
<text x="391.2" y="115.55" font-size="8.6" text-anchor="end" textLength="11.1" lengthAdjust="spacingAndGlyphs" fill="#111" stroke="#111" stroke-width="0.25">450</text>
<text x="415.6" y="420.7" font-size="8.6" text-anchor="middle" textLength="3.7" lengthAdjust="spacingAndGlyphs" fill="#111" stroke="#111" stroke-width="0.25">0</text>
<text x="442.4" y="420.7" font-size="8.6" text-anchor="middle" textLength="3.7" lengthAdjust="spacingAndGlyphs" fill="#111" stroke="#111" stroke-width="0.25">3</text>
<text x="467.6" y="420.7" font-size="8.6" text-anchor="middle" textLength="3.7" lengthAdjust="spacingAndGlyphs" fill="#111" stroke="#111" stroke-width="0.25">6</text>
<text x="493.9" y="420.7" font-size="8.6" text-anchor="middle" textLength="3.7" lengthAdjust="spacingAndGlyphs" fill="#111" stroke="#111" stroke-width="0.25">9</text>
<text x="519.6" y="420.7" font-size="8.6" text-anchor="middle" textLength="7.4" lengthAdjust="spacingAndGlyphs" fill="#111" stroke="#111" stroke-width="0.25">12</text>
<text x="545.5" y="420.7" font-size="8.6" text-anchor="middle" textLength="7.4" lengthAdjust="spacingAndGlyphs" fill="#111" stroke="#111" stroke-width="0.25">15</text>
<text x="571.4" y="420.7" font-size="8.6" text-anchor="middle" textLength="7.4" lengthAdjust="spacingAndGlyphs" fill="#111" stroke="#111" stroke-width="0.25">18</text>
<text x="597.4" y="420.7" font-size="8.6" text-anchor="middle" textLength="7.4" lengthAdjust="spacingAndGlyphs" fill="#111" stroke="#111" stroke-width="0.25">21</text>
<text x="623.7" y="420.7" font-size="8.6" text-anchor="middle" textLength="7.4" lengthAdjust="spacingAndGlyphs" fill="#111" stroke="#111" stroke-width="0.25">24</text>
<text x="649.5" y="420.7" font-size="8.6" text-anchor="middle" textLength="7.4" lengthAdjust="spacingAndGlyphs" fill="#111" stroke="#111" stroke-width="0.25">27</text>
<text x="675.6" y="420.7" font-size="8.6" text-anchor="middle" textLength="7.4" lengthAdjust="spacingAndGlyphs" fill="#111" stroke="#111" stroke-width="0.25">30</text>
<text x="701.6" y="420.7" font-size="8.6" text-anchor="middle" textLength="7.4" lengthAdjust="spacingAndGlyphs" fill="#111" stroke="#111" stroke-width="0.25">33</text>
<text x="726.9" y="420.7" font-size="8.6" text-anchor="middle" textLength="7.4" lengthAdjust="spacingAndGlyphs" fill="#111" stroke="#111" stroke-width="0.25">36</text>
<text x="739.3" y="420.2" font-size="8.4" textLength="20.2" lengthAdjust="spacingAndGlyphs" fill="#111" stroke="#111" stroke-width="0.25">Q m³/h</text>
<text x="756.6" y="413.75" font-size="8.6" textLength="3.7" lengthAdjust="spacingAndGlyphs" fill="#111" stroke="#111" stroke-width="0.25">0</text>
<text x="756.6" y="374.15" font-size="8.6" textLength="7.4" lengthAdjust="spacingAndGlyphs" fill="#111" stroke="#111" stroke-width="0.25">20</text>
<text x="756.6" y="334.55" font-size="8.6" textLength="7.4" lengthAdjust="spacingAndGlyphs" fill="#111" stroke="#111" stroke-width="0.25">40</text>
<text x="756.6" y="294.95" font-size="8.6" textLength="7.4" lengthAdjust="spacingAndGlyphs" fill="#111" stroke="#111" stroke-width="0.25">60</text>
<text x="756.6" y="255.35" font-size="8.6" textLength="7.4" lengthAdjust="spacingAndGlyphs" fill="#111" stroke="#111" stroke-width="0.25">80</text>
<text x="756.6" y="215.75" font-size="8.6" textLength="11.1" lengthAdjust="spacingAndGlyphs" fill="#111" stroke="#111" stroke-width="0.25">100</text>
<text x="756.6" y="176.15" font-size="8.6" textLength="11.1" lengthAdjust="spacingAndGlyphs" fill="#111" stroke="#111" stroke-width="0.25">120</text>
<text x="756.6" y="136.55" font-size="8.6" textLength="11.1" lengthAdjust="spacingAndGlyphs" fill="#111" stroke="#111" stroke-width="0.25">140</text>
<text x="384.8" y="86.3" font-size="8" textLength="4.4" lengthAdjust="spacingAndGlyphs" fill="#111" stroke="#111" stroke-width="0.25">P</text>
<text x="381" y="97.3" font-size="8" textLength="11" lengthAdjust="spacingAndGlyphs" fill="#111" stroke="#111" stroke-width="0.25">kPa</text>
<text x="405.7" y="85.9" font-size="8" font-weight="bold" textLength="4.6" lengthAdjust="spacingAndGlyphs" fill="#111">H</text>
<text x="405" y="96.2" font-size="8" textLength="5" lengthAdjust="spacingAndGlyphs" fill="#111" stroke="#111" stroke-width="0.25">m</text>
<text x="756.6" y="83.6" font-size="7.8" font-weight="bold" textLength="4.4" lengthAdjust="spacingAndGlyphs" fill="#111">H</text>
<text x="757" y="93.2" font-size="6.4" textLength="3.4" lengthAdjust="spacingAndGlyphs" fill="#888" stroke="#888" stroke-width="0.25">ft</text>
<text x="687.1" y="104" font-size="12.8" font-weight="bold" textLength="18.4" lengthAdjust="spacingAndGlyphs" fill="#111">MEI</text>
<text x="708.4" y="104" font-size="11" textLength="7.6" lengthAdjust="spacingAndGlyphs" fill="#666" stroke="#666" stroke-width="0.25">≥</text>
<text x="718.7" y="104" font-size="12.8" font-weight="bold" textLength="21.8" lengthAdjust="spacingAndGlyphs" fill="#111">0,60</text>
<path d="M415.6 437.75 V501.25 M441.8 437.75 V501.25 M467.6 437.75 V501.25 M493.9 437.75 V501.25 M519.6 437.75 V501.25 M545.5 437.75 V501.25 M571.4 437.75 V501.25 M597.4 437.75 V501.25 M623.7 437.75 V501.25 M649.5 437.75 V501.25 M675.6 437.75 V501.25 M701.6 437.75 V501.25 M726.9 437.75 V501.25 M752.7 437.75 V499.25 M413.3 499.25 H752.7 M413.3 486.95 H752.7 M413.3 474.65 H752.7 M413.3 462.35 H752.7 M413.3 450.05 H752.7 M413.3 437.75 H752.7" stroke="#000" stroke-width="1.45" fill="none"/>
<path d="M752.8 499.25 H756 M752.8 489.88 H756 M752.8 480.51 H756 M752.8 471.14 H756 M752.8 461.77 H756 M752.8 452.4 H756 M752.8 443.03 H756" stroke="#000" stroke-width="1.0" fill="none"/>
<path d="M467.7 462.26 L469.22 462.88 L470.74 463.48 L472.25 464.05 L473.77 464.6 L475.29 465.13 L476.81 465.63 L478.32 466.11 L479.84 466.57 L481.36 467.01 L482.88 467.43 L484.39 467.82 L485.91 468.2 L487.43 468.55 L488.95 468.88 L490.46 469.2 L491.98 469.49 L493.5 469.76 L495.02 470.02 L496.54 470.25 L498.05 470.47 L499.57 470.66 L501.09 470.84 L502.61 471 L504.12 471.15 L505.64 471.27 L507.16 471.38 L508.68 471.47 L510.19 471.55 L511.71 471.61 L513.23 471.65 L514.75 471.68 L516.26 471.69 L517.78 471.69 L519.3 471.67 L520.82 471.64 L522.34 471.59 L523.85 471.53 L525.37 471.45 L526.89 471.36 L528.41 471.26 L529.92 471.15 L531.44 471.02 L532.96 470.88 L534.48 470.72 L535.99 470.56 L537.51 470.38 L539.03 470.2 L540.55 470 L542.06 469.79 L543.58 469.57 L545.1 469.34 L546.62 469.1 L548.14 468.85 L549.65 468.59 L551.17 468.32 L552.69 468.04 L554.21 467.75 L555.72 467.46 L557.24 467.16 L558.76 466.85 L560.28 466.53 L561.79 466.2 L563.31 465.87 L564.83 465.53 L566.35 465.19 L567.86 464.84 L569.38 464.48 L570.9 464.12 L572.42 463.75 L573.94 463.38 L575.45 463 L576.97 462.62 L578.49 462.23 L580.01 461.84 L581.52 461.44 L583.04 461.05 L584.56 460.65 L586.08 460.24 L587.59 459.84 L589.11 459.43 L590.63 459.02 L592.15 458.61 L593.66 458.19 L595.18 457.78 L596.7 457.36 L598.22 456.95 L599.74 456.53 L601.25 456.12 L602.77 455.7 L604.29 455.28 L605.81 454.87 L607.32 454.45 L608.84 454.04 L610.36 453.63 L611.88 453.22 L613.39 452.81 L614.91 452.41 L616.43 452.01 L617.95 451.61 L619.46 451.21 L620.98 450.82 L622.5 450.43" stroke="#000" stroke-width="2.1" fill="none"/>
<rect x="425.3" y="445.85" width="38.2" height="8" fill="#fff"/>
<rect x="425.3" y="458.15" width="38.2" height="8" fill="#fff"/>
<rect x="425.3" y="470.45" width="38.2" height="8" fill="#fff"/>
<rect x="425.3" y="482.75" width="38.2" height="8" fill="#fff"/>
<text x="426.6" y="452.75" font-size="7.4" textLength="35.4" lengthAdjust="spacingAndGlyphs" fill="#111" stroke="#111" stroke-width="0.25">CP 50/4100</text>
<text x="426.6" y="465.05" font-size="7.4" textLength="35.4" lengthAdjust="spacingAndGlyphs" fill="#111" stroke="#111" stroke-width="0.25">CP 50/3100</text>
<text x="426.6" y="477.35" font-size="7.4" textLength="35.4" lengthAdjust="spacingAndGlyphs" fill="#111" stroke="#111" stroke-width="0.25">CP 50/2600</text>
<text x="426.6" y="489.65" font-size="7.4" textLength="35.4" lengthAdjust="spacingAndGlyphs" fill="#111" stroke="#111" stroke-width="0.25">CP 50/2200</text>
<text x="412.3" y="502.75" font-size="8.6" text-anchor="end" textLength="3.7" lengthAdjust="spacingAndGlyphs" fill="#111" stroke="#111" stroke-width="0.25">0</text>
<text x="412.3" y="490.45" font-size="8.6" text-anchor="end" textLength="3.7" lengthAdjust="spacingAndGlyphs" fill="#111" stroke="#111" stroke-width="0.25">1</text>
<text x="412.3" y="478.15" font-size="8.6" text-anchor="end" textLength="3.7" lengthAdjust="spacingAndGlyphs" fill="#111" stroke="#111" stroke-width="0.25">2</text>
<text x="412.3" y="465.85" font-size="8.6" text-anchor="end" textLength="3.7" lengthAdjust="spacingAndGlyphs" fill="#111" stroke="#111" stroke-width="0.25">3</text>
<text x="412.3" y="453.55" font-size="8.6" text-anchor="end" textLength="3.7" lengthAdjust="spacingAndGlyphs" fill="#111" stroke="#111" stroke-width="0.25">4</text>
<text x="415.6" y="511.2" font-size="8.6" text-anchor="middle" textLength="3.7" lengthAdjust="spacingAndGlyphs" fill="#111" stroke="#111" stroke-width="0.25">0</text>
<text x="441.8" y="511.2" font-size="8.6" text-anchor="middle" textLength="3.7" lengthAdjust="spacingAndGlyphs" fill="#111" stroke="#111" stroke-width="0.25">3</text>
<text x="467.6" y="511.2" font-size="8.6" text-anchor="middle" textLength="3.7" lengthAdjust="spacingAndGlyphs" fill="#111" stroke="#111" stroke-width="0.25">6</text>
<text x="493.9" y="511.2" font-size="8.6" text-anchor="middle" textLength="3.7" lengthAdjust="spacingAndGlyphs" fill="#111" stroke="#111" stroke-width="0.25">9</text>
<text x="519.6" y="511.2" font-size="8.6" text-anchor="middle" textLength="7.4" lengthAdjust="spacingAndGlyphs" fill="#111" stroke="#111" stroke-width="0.25">12</text>
<text x="545.5" y="511.2" font-size="8.6" text-anchor="middle" textLength="7.4" lengthAdjust="spacingAndGlyphs" fill="#111" stroke="#111" stroke-width="0.25">15</text>
<text x="571.4" y="511.2" font-size="8.6" text-anchor="middle" textLength="7.4" lengthAdjust="spacingAndGlyphs" fill="#111" stroke="#111" stroke-width="0.25">18</text>
<text x="597.4" y="511.2" font-size="8.6" text-anchor="middle" textLength="7.4" lengthAdjust="spacingAndGlyphs" fill="#111" stroke="#111" stroke-width="0.25">21</text>
<text x="623.7" y="511.2" font-size="8.6" text-anchor="middle" textLength="7.4" lengthAdjust="spacingAndGlyphs" fill="#111" stroke="#111" stroke-width="0.25">24</text>
<text x="649.5" y="511.2" font-size="8.6" text-anchor="middle" textLength="7.4" lengthAdjust="spacingAndGlyphs" fill="#111" stroke="#111" stroke-width="0.25">27</text>
<text x="675.6" y="511.2" font-size="8.6" text-anchor="middle" textLength="7.4" lengthAdjust="spacingAndGlyphs" fill="#111" stroke="#111" stroke-width="0.25">30</text>
<text x="701.6" y="511.2" font-size="8.6" text-anchor="middle" textLength="7.4" lengthAdjust="spacingAndGlyphs" fill="#111" stroke="#111" stroke-width="0.25">33</text>
<text x="726.9" y="511.2" font-size="8.6" text-anchor="middle" textLength="7.4" lengthAdjust="spacingAndGlyphs" fill="#111" stroke="#111" stroke-width="0.25">36</text>
<text x="739.3" y="510.7" font-size="8.4" textLength="20.2" lengthAdjust="spacingAndGlyphs" fill="#111" stroke="#111" stroke-width="0.25">Q m³/h</text>
<text x="393.8" y="437.2" font-size="7.8" textLength="18.7" lengthAdjust="spacingAndGlyphs" fill="#111" stroke="#111" stroke-width="0.25">NPSH</text>
<text x="406.8" y="445.4" font-size="7.8" textLength="5.5" lengthAdjust="spacingAndGlyphs" fill="#111" stroke="#111" stroke-width="0.25">m</text>
<text x="754.4" y="440.4" font-size="7.8" textLength="19" lengthAdjust="spacingAndGlyphs" fill="#111" stroke="#111" stroke-width="0.25">NPSH</text>
<text x="757.6" y="454.6" font-size="6.2" textLength="3.3" lengthAdjust="spacingAndGlyphs" fill="#888" stroke="#888" stroke-width="0.25">ft</text>
<text x="756.6" y="465.25" font-size="8.6" textLength="7.4" lengthAdjust="spacingAndGlyphs" fill="#111" stroke="#111" stroke-width="0.25">10</text>
<text x="756.6" y="484" font-size="8.6" textLength="3.7" lengthAdjust="spacingAndGlyphs" fill="#111" stroke="#111" stroke-width="0.25">5</text>
<text x="756.6" y="502.75" font-size="8.6" textLength="3.7" lengthAdjust="spacingAndGlyphs" fill="#111" stroke="#111" stroke-width="0.25">0</text>
<path d="M415.6 524.3 V588.55 M441.8 524.3 V588.55 M467.6 524.3 V588.55 M493.9 524.3 V588.55 M519.6 524.3 V588.55 M545.5 524.3 V588.55 M571.4 524.3 V588.55 M597.4 524.3 V588.55 M623.7 524.3 V588.55 M649.5 524.3 V588.55 M675.6 524.3 V588.55 M701.6 524.3 V588.55 M726.9 524.3 V588.55 M752.7 524.3 V586.55 M413.3 586.55 H752.7 M413.3 574.1 H752.7 M413.3 561.65 H752.7 M413.3 549.2 H752.7 M413.3 536.75 H752.7 M413.3 524.3 H752.7" stroke="#000" stroke-width="1.45" fill="none"/>
<path d="M752.8 586.55 H756 M752.8 577.27 H756 M752.8 567.98 H756 M752.8 558.7 H756 M752.8 549.41 H756 M752.8 540.13 H756 M752.8 530.85 H756" stroke="#000" stroke-width="1.0" fill="none"/>
<path d="M415.5 573.33 L417.01 573.09 L418.52 572.84 L420.03 572.6 L421.53 572.36 L423.04 572.12 L424.55 571.88 L426.06 571.64 L427.57 571.4 L429.08 571.16 L430.59 570.92 L432.1 570.69 L433.6 570.45 L435.11 570.21 L436.62 569.97 L438.13 569.74 L439.64 569.5 L441.15 569.27 L442.66 569.03 L444.17 568.8 L445.67 568.57 L447.18 568.33 L448.69 568.1 L450.2 567.87 L451.71 567.64 L453.22 567.41 L454.73 567.18 L456.24 566.95 L457.74 566.72 L459.25 566.49 L460.76 566.27 L462.27 566.04 L463.78 565.81 L465.29 565.59 L466.8 565.36 L468.31 565.14 L469.81 564.92 L471.32 564.7 L472.83 564.47 L474.34 564.25 L475.85 564.03 L477.36 563.81 L478.87 563.59 L480.38 563.38 L481.88 563.16 L483.39 562.94 L484.9 562.73 L486.41 562.51 L487.92 562.3 L489.43 562.08 L490.94 561.87 L492.44 561.66 L493.95 561.45 L495.46 561.24 L496.97 561.03 L498.48 560.82 L499.99 560.61 L501.5 560.41 L503.01 560.2 L504.51 559.99 L506.02 559.79 L507.53 559.59 L509.04 559.39 L510.55 559.18 L512.06 558.98 L513.57 558.78 L515.08 558.59 L516.58 558.39 L518.09 558.19 L519.6 558 L521.11 557.8 L522.62 557.61 L524.13 557.42 L525.64 557.22 L527.15 557.03 L528.65 556.84 L530.16 556.65 L531.67 556.47 L533.18 556.28 L534.69 556.1 L536.2 555.91 L537.71 555.73 L539.22 555.55 L540.72 555.36 L542.23 555.18 L543.74 555.01 L545.25 554.83 L546.76 554.65 L548.27 554.48 L549.78 554.3 L551.28 554.13 L552.79 553.96 L554.3 553.79 L555.81 553.62 L557.32 553.45 L558.83 553.28 L560.34 553.11 L561.85 552.95 L563.35 552.79 L564.86 552.62 L566.37 552.46 L567.88 552.3 L569.39 552.14 L570.9 551.99 L572.41 551.83 L573.92 551.67 L575.42 551.52 L576.93 551.37 L578.44 551.22 L579.95 551.07 L581.46 550.92 L582.97 550.77 L584.48 550.63 L585.99 550.48 L587.49 550.34 L589 550.2 L590.51 550.06 L592.02 549.92 L593.53 549.78 L595.04 549.65 L596.55 549.51 L598.06 549.38 L599.56 549.25 L601.07 549.11 L602.58 548.99 L604.09 548.86 L605.6 548.73 L607.11 548.61 L608.62 548.48 L610.12 548.36 L611.63 548.24 L613.14 548.12 L614.65 548.01 L616.16 547.89 L617.67 547.78 L619.18 547.66 L620.69 547.55 L622.19 547.44 L623.7 547.34 L625.21 547.23 L626.72 547.12 L628.23 547.02 L629.74 546.92 L631.25 546.82 L632.76 546.72 L634.26 546.62 L635.77 546.53 L637.28 546.44 L638.79 546.34 L640.3 546.25 L641.81 546.17 L643.32 546.08 L644.83 545.99 L646.33 545.91 L647.84 545.83 L649.35 545.75 L650.86 545.67 L652.37 545.59 L653.88 545.52 L655.39 545.44 L656.9 545.37 L658.4 545.3 L659.91 545.24 L661.42 545.17 L662.93 545.11 L664.44 545.04 L665.95 544.98 L667.46 544.92 L668.97 544.87 L670.47 544.81 L671.98 544.76 L673.49 544.7 L675 544.66 M415.5 575.54 L417.01 575.38 L418.52 575.21 L420.03 575.05 L421.54 574.89 L423.05 574.72 L424.56 574.56 L426.07 574.4 L427.58 574.24 L429.09 574.07 L430.6 573.91 L432.11 573.75 L433.62 573.58 L435.13 573.42 L436.64 573.26 L438.15 573.09 L439.65 572.93 L441.16 572.77 L442.67 572.6 L444.18 572.44 L445.69 572.28 L447.2 572.12 L448.71 571.96 L450.22 571.79 L451.73 571.63 L453.24 571.47 L454.75 571.31 L456.26 571.15 L457.77 570.99 L459.28 570.83 L460.79 570.67 L462.3 570.51 L463.81 570.35 L465.32 570.19 L466.83 570.03 L468.34 569.88 L469.85 569.72 L471.36 569.56 L472.87 569.4 L474.38 569.25 L475.89 569.09 L477.4 568.94 L478.91 568.78 L480.42 568.63 L481.93 568.47 L483.44 568.32 L484.95 568.17 L486.45 568.02 L487.96 567.87 L489.47 567.72 L490.98 567.57 L492.49 567.42 L494 567.27 L495.51 567.12 L497.02 566.97 L498.53 566.83 L500.04 566.68 L501.55 566.54 L503.06 566.39 L504.57 566.25 L506.08 566.11 L507.59 565.96 L509.1 565.82 L510.61 565.68 L512.12 565.54 L513.63 565.4 L515.14 565.27 L516.65 565.13 L518.16 564.99 L519.67 564.86 L521.18 564.73 L522.69 564.59 L524.2 564.46 L525.71 564.33 L527.22 564.2 L528.73 564.07 L530.24 563.94 L531.75 563.82 L533.25 563.69 L534.76 563.57 L536.27 563.44 L537.78 563.32 L539.29 563.2 L540.8 563.08 L542.31 562.96 L543.82 562.84 L545.33 562.73 L546.84 562.61 L548.35 562.5 L549.86 562.39 L551.37 562.28 L552.88 562.17 L554.39 562.06 L555.9 561.95 L557.41 561.84 L558.92 561.74 L560.43 561.63 L561.94 561.53 L563.45 561.43 L564.96 561.33 L566.47 561.24 L567.98 561.14 L569.49 561.04 L571 560.95 L572.51 560.86 L574.02 560.77 L575.53 560.68 L577.04 560.59 L578.55 560.51 L580.05 560.42 L581.56 560.34 L583.07 560.26 L584.58 560.18 L586.09 560.1 L587.6 560.03 L589.11 559.95 L590.62 559.88 L592.13 559.81 L593.64 559.74 L595.15 559.67 L596.66 559.6 L598.17 559.54 L599.68 559.48 L601.19 559.42 L602.7 559.36 L604.21 559.3 L605.72 559.25 L607.23 559.19 L608.74 559.14 L610.25 559.09 L611.76 559.05 L613.27 559 L614.78 558.96 L616.29 558.91 L617.8 558.87 L619.31 558.84 L620.82 558.8 L622.33 558.77 L623.84 558.74 L625.35 558.71 L626.85 558.68 L628.36 558.65 L629.87 558.63 L631.38 558.61 L632.89 558.59 L634.4 558.57 L635.91 558.56 L637.42 558.54 L638.93 558.53 L640.44 558.52 L641.95 558.52 L643.46 558.51 L644.97 558.51 L646.48 558.51 L647.99 558.52 L649.5 558.52 M415.5 577.62 L417.02 577.45 L418.54 577.28 L420.06 577.12 L421.58 576.95 L423.1 576.79 L424.62 576.63 L426.14 576.48 L427.66 576.32 L429.18 576.17 L430.7 576.02 L432.22 575.87 L433.74 575.73 L435.26 575.58 L436.78 575.44 L438.3 575.3 L439.82 575.17 L441.34 575.03 L442.85 574.9 L444.37 574.77 L445.89 574.64 L447.41 574.51 L448.93 574.38 L450.45 574.26 L451.97 574.14 L453.49 574.02 L455.01 573.9 L456.53 573.78 L458.05 573.67 L459.57 573.55 L461.09 573.44 L462.61 573.33 L464.13 573.22 L465.65 573.12 L467.17 573.01 L468.69 572.91 L470.21 572.81 L471.73 572.71 L473.25 572.61 L474.77 572.52 L476.29 572.42 L477.81 572.33 L479.33 572.24 L480.85 572.15 L482.37 572.06 L483.89 571.97 L485.41 571.89 L486.93 571.8 L488.45 571.72 L489.97 571.64 L491.49 571.56 L493.01 571.48 L494.52 571.41 L496.04 571.33 L497.56 571.26 L499.08 571.18 L500.6 571.11 L502.12 571.04 L503.64 570.97 L505.16 570.91 L506.68 570.84 L508.2 570.78 L509.72 570.71 L511.24 570.65 L512.76 570.59 L514.28 570.53 L515.8 570.47 L517.32 570.41 L518.84 570.35 L520.36 570.3 L521.88 570.24 L523.4 570.19 L524.92 570.14 L526.44 570.09 L527.96 570.03 L529.48 569.99 L531 569.94 L532.52 569.89 L534.04 569.84 L535.56 569.8 L537.08 569.75 L538.6 569.71 L540.12 569.67 L541.64 569.62 L543.16 569.58 L544.68 569.54 L546.19 569.5 L547.71 569.46 L549.23 569.42 L550.75 569.39 L552.27 569.35 L553.79 569.31 L555.31 569.28 L556.83 569.24 L558.35 569.21 L559.87 569.18 L561.39 569.14 L562.91 569.11 L564.43 569.08 L565.95 569.05 L567.47 569.02 L568.99 568.99 L570.51 568.96 L572.03 568.93 L573.55 568.9 L575.07 568.88 L576.59 568.85 L578.11 568.82 L579.63 568.8 L581.15 568.77 L582.67 568.75 L584.19 568.72 L585.71 568.7 L587.23 568.67 L588.75 568.65 L590.27 568.62 L591.79 568.6 L593.31 568.58 L594.83 568.55 L596.35 568.53 L597.86 568.51 L599.38 568.49 L600.9 568.46 L602.42 568.44 L603.94 568.42 L605.46 568.4 L606.98 568.38 L608.5 568.36 L610.02 568.34 L611.54 568.31 L613.06 568.29 L614.58 568.27 L616.1 568.25 L617.62 568.23 L619.14 568.21 L620.66 568.19 L622.18 568.17 L623.7 568.14 M415.5 581.09 L417.01 580.92 L418.53 580.76 L420.04 580.6 L421.55 580.44 L423.07 580.28 L424.58 580.12 L426.09 579.97 L427.61 579.82 L429.12 579.67 L430.63 579.52 L432.15 579.37 L433.66 579.23 L435.17 579.09 L436.69 578.95 L438.2 578.81 L439.71 578.67 L441.23 578.54 L442.74 578.41 L444.25 578.28 L445.77 578.15 L447.28 578.03 L448.79 577.9 L450.31 577.78 L451.82 577.66 L453.33 577.54 L454.85 577.43 L456.36 577.31 L457.87 577.2 L459.39 577.09 L460.9 576.98 L462.41 576.87 L463.93 576.77 L465.44 576.66 L466.95 576.56 L468.47 576.46 L469.98 576.36 L471.49 576.26 L473.01 576.17 L474.52 576.07 L476.03 575.98 L477.55 575.89 L479.06 575.8 L480.57 575.71 L482.09 575.62 L483.6 575.54 L485.11 575.45 L486.63 575.37 L488.14 575.29 L489.65 575.21 L491.17 575.13 L492.68 575.05 L494.19 574.98 L495.71 574.9 L497.22 574.83 L498.73 574.76 L500.25 574.69 L501.76 574.62 L503.27 574.55 L504.79 574.49 L506.3 574.42 L507.81 574.36 L509.33 574.29 L510.84 574.23 L512.35 574.17 L513.87 574.11 L515.38 574.05 L516.89 574 L518.41 573.94 L519.92 573.88 L521.43 573.83 L522.95 573.78 L524.46 573.72 L525.97 573.67 L527.49 573.62 L529 573.57 L530.51 573.52 L532.03 573.48 L533.54 573.43 L535.05 573.38 L536.57 573.34 L538.08 573.29 L539.59 573.25 L541.11 573.21 L542.62 573.17 L544.13 573.12 L545.65 573.08 L547.16 573.04 L548.67 573.01 L550.19 572.97 L551.7 572.93 L553.21 572.89 L554.73 572.86 L556.24 572.82 L557.75 572.78 L559.27 572.75 L560.78 572.71 L562.29 572.68 L563.81 572.65 L565.32 572.62 L566.83 572.58 L568.35 572.55 L569.86 572.52 L571.37 572.49 L572.89 572.46 L574.4 572.43 L575.91 572.4 L577.43 572.37 L578.94 572.34 L580.45 572.31 L581.97 572.28 L583.48 572.25 L584.99 572.23 L586.51 572.2 L588.02 572.17 L589.53 572.14 L591.05 572.12 L592.56 572.09 L594.07 572.06 L595.59 572.04 L597.1 572.01" stroke="#000" stroke-width="2.0" fill="none"/>
<rect x="678.8" y="537.7" width="38" height="7.6" fill="#fff"/>
<rect x="653.7" y="552.2" width="38" height="7.6" fill="#fff"/>
<rect x="629.3" y="563.4" width="38" height="7.6" fill="#fff"/>
<rect x="603" y="572.4" width="38" height="7.6" fill="#fff"/>
<text x="680.3" y="544.3" font-size="7.9" font-weight="bold" textLength="35" lengthAdjust="spacingAndGlyphs" fill="#111">CP 50/4100</text>
<text x="655.2" y="558.8" font-size="7.9" font-weight="bold" textLength="35" lengthAdjust="spacingAndGlyphs" fill="#111">CP 50/3100</text>
<text x="630.8" y="570" font-size="7.9" font-weight="bold" textLength="35" lengthAdjust="spacingAndGlyphs" fill="#111">CP 50/2600</text>
<text x="604.5" y="579" font-size="7.9" font-weight="bold" textLength="35" lengthAdjust="spacingAndGlyphs" fill="#111">CP 50/2200</text>
<text x="412.2" y="590.05" font-size="8.6" text-anchor="end" textLength="3.7" lengthAdjust="spacingAndGlyphs" fill="#111" stroke="#111" stroke-width="0.25">0</text>
<text x="412.2" y="565.15" font-size="8.6" text-anchor="end" textLength="3.7" lengthAdjust="spacingAndGlyphs" fill="#111" stroke="#111" stroke-width="0.25">2</text>
<text x="412.2" y="540.25" font-size="8.6" text-anchor="end" textLength="3.7" lengthAdjust="spacingAndGlyphs" fill="#111" stroke="#111" stroke-width="0.25">4</text>
<text x="415.6" y="598.2" font-size="8.6" text-anchor="middle" textLength="3.7" lengthAdjust="spacingAndGlyphs" fill="#111" stroke="#111" stroke-width="0.25">0</text>
<text x="441.8" y="598.2" font-size="8.6" text-anchor="middle" textLength="3.7" lengthAdjust="spacingAndGlyphs" fill="#111" stroke="#111" stroke-width="0.25">3</text>
<text x="467.6" y="598.2" font-size="8.6" text-anchor="middle" textLength="3.7" lengthAdjust="spacingAndGlyphs" fill="#111" stroke="#111" stroke-width="0.25">6</text>
<text x="493.9" y="598.2" font-size="8.6" text-anchor="middle" textLength="3.7" lengthAdjust="spacingAndGlyphs" fill="#111" stroke="#111" stroke-width="0.25">9</text>
<text x="519.6" y="598.2" font-size="8.6" text-anchor="middle" textLength="7.4" lengthAdjust="spacingAndGlyphs" fill="#111" stroke="#111" stroke-width="0.25">12</text>
<text x="545.5" y="598.2" font-size="8.6" text-anchor="middle" textLength="7.4" lengthAdjust="spacingAndGlyphs" fill="#111" stroke="#111" stroke-width="0.25">15</text>
<text x="571.4" y="598.2" font-size="8.6" text-anchor="middle" textLength="7.4" lengthAdjust="spacingAndGlyphs" fill="#111" stroke="#111" stroke-width="0.25">18</text>
<text x="597.4" y="598.2" font-size="8.6" text-anchor="middle" textLength="7.4" lengthAdjust="spacingAndGlyphs" fill="#111" stroke="#111" stroke-width="0.25">21</text>
<text x="623.7" y="598.2" font-size="8.6" text-anchor="middle" textLength="7.4" lengthAdjust="spacingAndGlyphs" fill="#111" stroke="#111" stroke-width="0.25">24</text>
<text x="649.5" y="598.2" font-size="8.6" text-anchor="middle" textLength="7.4" lengthAdjust="spacingAndGlyphs" fill="#111" stroke="#111" stroke-width="0.25">27</text>
<text x="675.6" y="598.2" font-size="8.6" text-anchor="middle" textLength="7.4" lengthAdjust="spacingAndGlyphs" fill="#111" stroke="#111" stroke-width="0.25">30</text>
<text x="701.6" y="598.2" font-size="8.6" text-anchor="middle" textLength="7.4" lengthAdjust="spacingAndGlyphs" fill="#111" stroke="#111" stroke-width="0.25">33</text>
<text x="726.9" y="598.2" font-size="8.6" text-anchor="middle" textLength="7.4" lengthAdjust="spacingAndGlyphs" fill="#111" stroke="#111" stroke-width="0.25">36</text>
<text x="739.3" y="597.7" font-size="8.4" textLength="20.2" lengthAdjust="spacingAndGlyphs" fill="#111" stroke="#111" stroke-width="0.25">Q m³/h</text>
<text x="402.6" y="528.6" font-size="7.8" textLength="9.8" lengthAdjust="spacingAndGlyphs" fill="#111" stroke="#111" stroke-width="0.25">kW</text>
<text x="755.2" y="530.4" font-size="7.8" textLength="9.4" lengthAdjust="spacingAndGlyphs" fill="#111" stroke="#111" stroke-width="0.25">HP</text>
<text x="756.6" y="590.05" font-size="8.6" textLength="3.7" lengthAdjust="spacingAndGlyphs" fill="#111" stroke="#111" stroke-width="0.25">0</text>
<text x="756.6" y="571.48" font-size="8.6" textLength="3.7" lengthAdjust="spacingAndGlyphs" fill="#111" stroke="#111" stroke-width="0.25">2</text>
<text x="756.6" y="552.91" font-size="8.6" textLength="3.7" lengthAdjust="spacingAndGlyphs" fill="#111" stroke="#111" stroke-width="0.25">4</text>
</g>
<g fill="#111">
<rect x="30.2" y="669.4" width="752.4" height="104.9" fill="none" stroke="#000" stroke-width="2.9"/>
<path d="M118.7 669.4 V774.3 M151.3 669.4 V774.3 M186.2 669.4 V774.3 M222.5 669.4 V774.3 M255.2 669.4 V774.3 M292 669.4 V774.3 M329 669.4 V774.3 M362 669.4 V774.3 M399 669.4 V774.3 M462.6 669.4 V774.3 M495 669.4 V774.3 M526.8 669.4 V774.3 M558 669.4 V774.3 M602.5 669.4 V774.3 M634.1 702.5 V774.3 M666.6 702.5 V774.3 M697.6 669.4 V774.3 M748.8 669.4 V774.3 M30.2 721.2 H782.6 M602.5 702.5 H697.6" stroke="#000" stroke-width="1.3" fill="none"/>
<text x="74.45" y="700.9" font-size="11" text-anchor="middle" textLength="40" lengthAdjust="spacingAndGlyphs">модель</text>
<text x="135" y="700.9" font-size="11" text-anchor="middle">L</text>
<text x="168.75" y="700.9" font-size="11" text-anchor="middle">L1</text>
<text x="204.35" y="700.9" font-size="11" text-anchor="middle">L2</text>
<text x="238.85" y="700.9" font-size="11" text-anchor="middle">B</text>
<text x="273.6" y="700.9" font-size="11" text-anchor="middle">B1</text>
<text x="310.5" y="700.9" font-size="11" text-anchor="middle">B2</text>
<text x="345.5" y="700.9" font-size="11" text-anchor="middle">H</text>
<text x="380.5" y="700.9" font-size="11" text-anchor="middle">H1</text>
<text x="430.8" y="700.9" font-size="11" text-anchor="middle">D</text>
<text x="478.8" y="700.9" font-size="11" text-anchor="middle">D1</text>
<text x="510.9" y="700.9" font-size="11" text-anchor="middle">D2</text>
<text x="542.4" y="700.9" font-size="11" text-anchor="middle">D3</text>
<text x="580.25" y="700.9" font-size="11" text-anchor="middle">D4</text>
<text x="650" y="684.3" font-size="11" text-anchor="middle" textLength="48" lengthAdjust="spacingAndGlyphs">размеры</text>
<text x="650" y="697.8" font-size="11" text-anchor="middle" textLength="48" lengthAdjust="spacingAndGlyphs">упаковки</text>
<text x="618.3" y="717.4" font-size="11" text-anchor="middle">L/B</text>
<text x="650.35" y="717.4" font-size="11" text-anchor="middle">L/B</text>
<text x="682.1" y="717.4" font-size="11" text-anchor="middle">H</text>
<text x="723.2" y="694.5" font-size="11" text-anchor="middle" textLength="37" lengthAdjust="spacingAndGlyphs">объем,</text>
<text x="723.2" y="708.3" font-size="11" text-anchor="middle">м3</text>
<text x="765.7" y="694.5" font-size="11" text-anchor="middle" textLength="20" lengthAdjust="spacingAndGlyphs">вес,</text>
<text x="765.7" y="708.3" font-size="11" text-anchor="middle">кг</text>
<text x="74.45" y="752.8" font-size="11" text-anchor="middle" font-weight="bold" textLength="69" lengthAdjust="spacingAndGlyphs">CP 50/4100 T</text>
<text x="135" y="752.8" font-size="11" text-anchor="middle">425</text>
<text x="168.75" y="752.8" font-size="11" text-anchor="middle">225</text>
<text x="204.35" y="752.8" font-size="11" text-anchor="middle">200</text>
<text x="238.85" y="752.8" font-size="11" text-anchor="middle">233</text>
<text x="273.6" y="752.8" font-size="11" text-anchor="middle">120</text>
<text x="310.5" y="752.8" font-size="11" text-anchor="middle">113</text>
<text x="345.5" y="752.8" font-size="11" text-anchor="middle">537</text>
<text x="380.5" y="752.8" font-size="11" text-anchor="middle">105</text>
<text x="430.8" y="752.8" font-size="11" text-anchor="middle">50 PN16</text>
<text x="478.8" y="752.8" font-size="11" text-anchor="middle">102</text>
<text x="510.9" y="752.8" font-size="11" text-anchor="middle">165</text>
<text x="542.4" y="752.8" font-size="11" text-anchor="middle">125</text>
<text x="618.3" y="752.8" font-size="11" text-anchor="middle">680</text>
<text x="650.35" y="752.8" font-size="11" text-anchor="middle">330</text>
<text x="682.1" y="752.8" font-size="11" text-anchor="middle">580</text>
<text x="723.2" y="752.8" font-size="11" text-anchor="middle">0,13</text>
<text x="765.7" y="752.8" font-size="11" text-anchor="middle">54</text>
<text x="580.25" y="745.6" font-size="11" text-anchor="middle" textLength="30" lengthAdjust="spacingAndGlyphs">4 отв.</text>
<text x="580.25" y="759.5" font-size="11" text-anchor="middle">Ø18</text>
</g>
</svg>
</body></html>
